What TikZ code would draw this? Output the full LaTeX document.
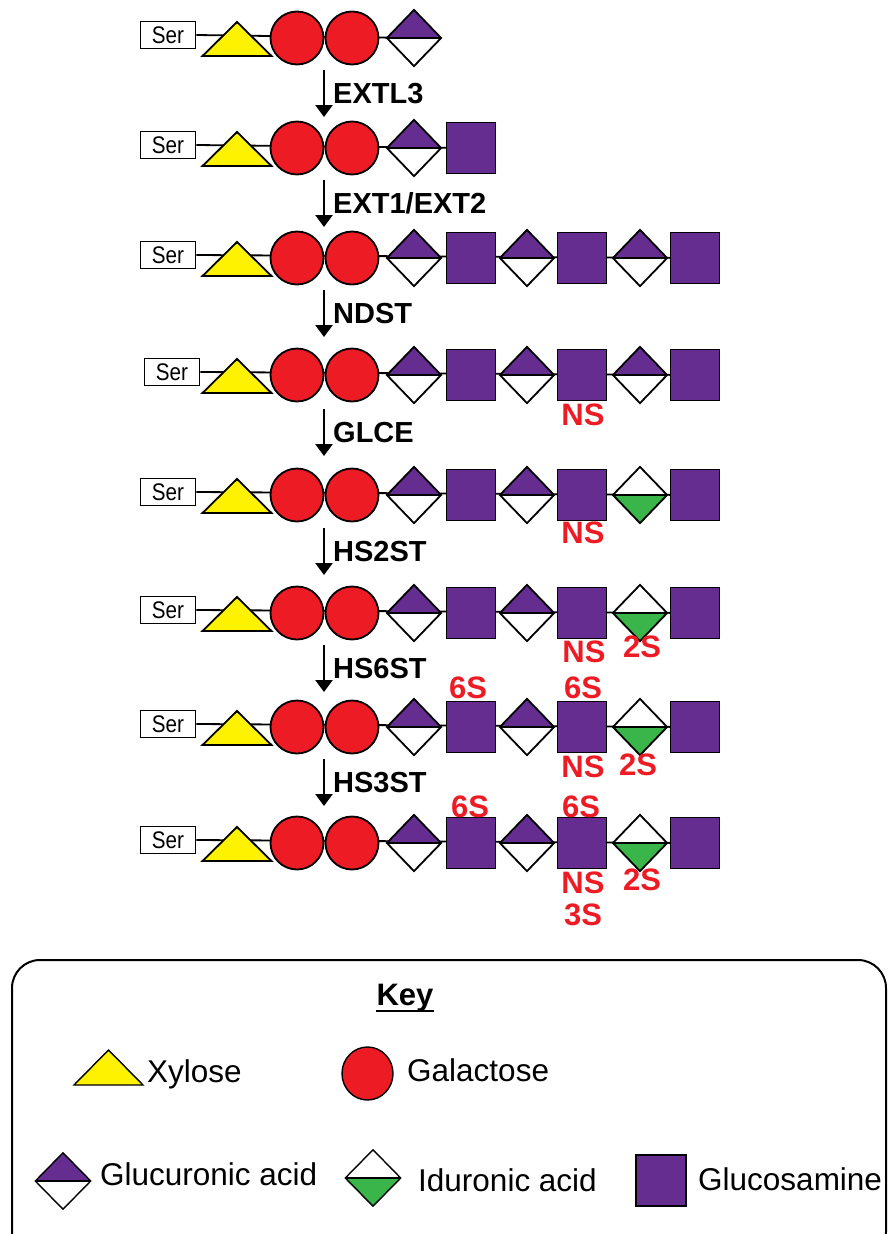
\documentclass[tikz,border=0pt]{standalone}
\usepackage{fontspec}
\setmainfont{Liberation Sans}
\newfontfamily\serfont{Liberation Sans}[FakeStretch=0.86]
\usetikzlibrary{shapes.geometric,arrows.meta,backgrounds}
\definecolor{gpurple}{RGB}{102,45,145}
\definecolor{gred}{RGB}{237,28,36}
\definecolor{gyellow}{RGB}{255,242,0}
\definecolor{ggreen}{RGB}{57,181,74}
\tikzset{
  lw/.style={line width=1.8pt},
  serbox/.style={draw, line width=1.6pt, fill=white, minimum width=55pt, minimum height=27pt, inner sep=0pt, font=\serfont\fontsize{24}{24}\selectfont},
  xylo/.style={draw, lw, fill=gyellow, line join=miter},
  gal/.style={circle, draw, lw, fill=gred, minimum size=53pt, inner sep=0pt},
  glcn/.style={rectangle, draw, lw, fill=gpurple, minimum width=49pt, minimum height=51pt, inner sep=0pt},
  glca/.style={diamond, draw, lw, fill=white, minimum width=55pt, minimum height=57pt, inner sep=0pt,
    path picture={\fill[gpurple] (path picture bounding box.west) -- (path picture bounding box.north) -- (path picture bounding box.east) -- cycle;
      \draw[lw] (path picture bounding box.west) -- (path picture bounding box.east);}},
  idoa/.style={diamond, draw, lw, fill=white, minimum width=55pt, minimum height=57pt, inner sep=0pt,
    path picture={\fill[ggreen] (path picture bounding box.west) -- (path picture bounding box.south) -- (path picture bounding box.east) -- cycle;
      \draw[lw] (path picture bounding box.west) -- (path picture bounding box.east);}},
  link/.style={lw},
  rxn/.style={line width=2.6pt, -{Triangle[width=17pt,length=12pt]}},
  enz/.style={anchor=base west, inner sep=0pt, font=\bfseries\fontsize{29}{29}\selectfont},
  mod/.style={anchor=center, inner sep=0pt, text=gred, font=\bfseries\fontsize{31}{31}\selectfont},
  keytxt/.style={anchor=base west, inner sep=0pt, font=\fontsize{31.5}{31.5}\selectfont},
  klw/.style={line width=1.4pt},
}
\newcommand{\glyrow}[5]{%
  \node[serbox] (ser#1) at (#3,#2-3) {Ser};
  \coordinate (xyl#1) at (237,#2);
  \filldraw[xylo] (202.5,#2+18) -- (237,#2-16) -- (271.5,#2+18) -- cycle;
  \node[gal] (gala#1) at (297,#2) {};
  \node[gal] (galb#1) at (352,#2) {};
  \node[glca] (da#1) at (414,#2) {};
  \ifnum#4>1 \node[glcn] (sa#1) at (471,#2) {};\fi
  \ifnum#4>2
    \node[glca] (db#1) at (527,#2) {};
    \node[glcn] (sb#1) at (582,#2) {};
    \ifnum#5=1 \node[idoa] (dc#1) at (640,#2) {};\else \node[glca] (dc#1) at (640,#2) {};\fi
    \node[glcn] (sc#1) at (695,#2) {};
  \fi
}
\newcommand{\rxnstep}[3]{% #1 id, #2 top y, #3 label
  \coordinate (at#1) at (324,#2);
  \coordinate (ab#1) at (324,#2+47);
  \draw[rxn] (at#1) -- (ab#1);
  \node[enz] (lab#1) at (333,#2+33) {#3};
}
\begin{document}
\begin{tikzpicture}[x=1pt,y=-1pt]
\clip (0,0) rectangle (888,1234);
\useasboundingbox (0,0) rectangle (888,1234);

% rows
\glyrow{1}{38}{168}{1}{0}
\glyrow{2}{148}{168}{2}{0}
\glyrow{3}{258}{168}{3}{0}
\glyrow{4}{375}{172}{3}{0}
\glyrow{5}{495}{168}{3}{1}
\glyrow{6}{613}{168}{3}{1}
\glyrow{7}{727}{168}{3}{1}
\glyrow{8}{843}{168}{3}{1}

\begin{scope}[on background layer]
  \draw[link] (ser1.east) -- (da1.center);
  \draw[link] (ser2.east) -- (sa2.center);
  \foreach \r in {3,...,8} { \draw[link] (ser\r.east) -- (sc\r.center); }
\end{scope}

% reactions
\rxnstep{1}{70}{EXTL3}
\rxnstep{2}{180}{EXT1/EXT2}
\rxnstep{3}{290}{NDST}
\rxnstep{4}{409}{GLCE}
\rxnstep{5}{528}{HS2ST}
\rxnstep{6}{645}{HS6ST}
\rxnstep{7}{759}{HS3ST}

% modifications
\node[mod] (ns4) at (583,415) {NS};
\node[mod] (ns5) at (583,533) {NS};
\node[mod] (ns6) at (584,652) {NS};
\node[mod] (twos6) at (642,647) {2S};
\node[mod] (sixa7) at (468,688) {6S};
\node[mod] (sixb7) at (583,688) {6S};
\node[mod] (ns7) at (583,767) {NS};
\node[mod] (twos7) at (638,765) {2S};
\node[mod] (sixa8) at (470,807) {6S};
\node[mod] (sixb8) at (581,807) {6S};
\node[mod] (ns8) at (583,883) {NS};
\node[mod] (twos8) at (642,880) {2S};
\node[mod] (three8) at (583,915) {3S};

% key
\draw[line width=2pt, rounded corners=28pt] (12,960) rectangle (886,1260);
\node[anchor=base, inner sep=0pt, font=\bfseries\fontsize{31}{31}\selectfont] (key) at (405,1005) {Key};
\draw[line width=2pt] ([yshift=-6pt]key.base west) -- ([yshift=-6pt]key.base east);

\coordinate (kxyl) at (108.5,1070);
\filldraw[draw, klw, fill=gyellow] (74,1085) -- (108.5,1050) -- (143,1085) -- cycle;
\node[keytxt] (txyl) at (147,1082) {Xylose};

\node[ellipse, draw, klw, fill=gred, minimum width=51pt, minimum height=53pt, inner sep=0pt] (kgal) at (367.5,1073.5) {};
\node[keytxt] (tgal) at (407,1081) {Galactose};

\node[glca, klw, minimum width=56pt, minimum height=57pt] (kglca) at (63,1181) {};
\node[keytxt] (tglca) at (100,1185) {Glucuronic acid};

\node[idoa, klw, minimum width=56pt, minimum height=57pt] (kidoa) at (373,1178) {};
\node[keytxt] (tidoa) at (418,1191) {Iduronic acid};

\node[glcn, klw, minimum width=50pt, minimum height=51pt] (kglcn) at (661,1180.5) {};
\node[keytxt] (tglcn) at (698,1190) {Glucosamine};
\end{tikzpicture}
\end{document}
